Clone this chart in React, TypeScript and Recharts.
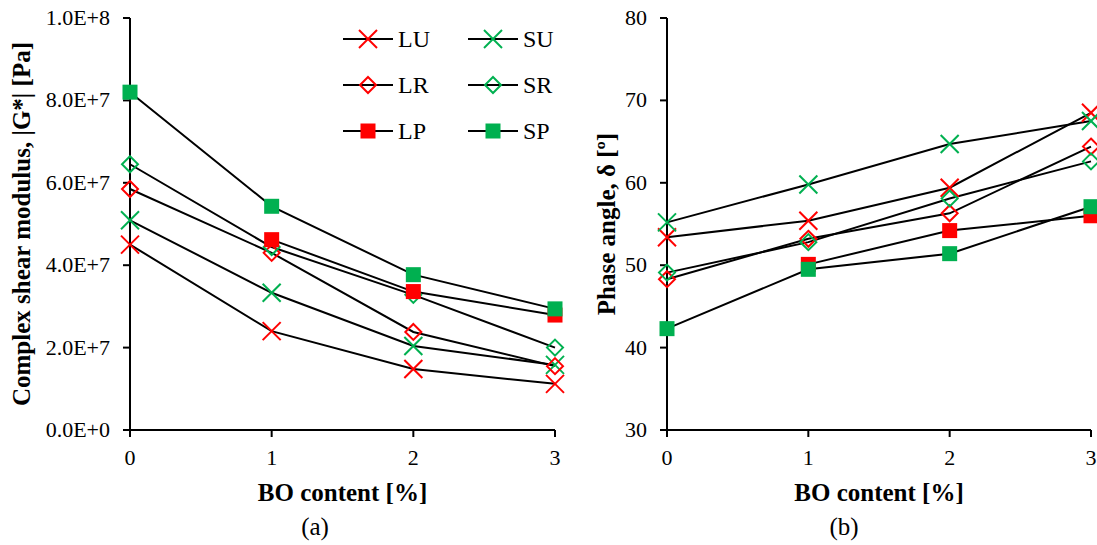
import React from 'react';
import { LineChart, Line, XAxis, YAxis, Legend } from 'recharts';

const boContent = [0, 1, 2, 3];

// Complex shear modulus |G*| [Pa]
const modLU = [4.5e7, 2.4e7, 1.48e7, 1.12e7];
const modSU = [5.09e7, 3.33e7, 2.04e7, 1.58e7];
const modLR = [5.85e7, 4.3e7, 2.38e7, 1.55e7];
const modSR = [6.45e7, 4.44e7, 3.28e7, 2.0e7];
const modLP = [null, 4.62e7, 3.36e7, 2.79e7];
const modSP = [8.2e7, 5.43e7, 3.77e7, 2.94e7];

// Phase angle [deg]
const phLU = [53.4, 55.4, 59.4, 68.5];
const phSU = [55.2, 59.8, 64.7, 67.5];
const phLR = [48.3, 53.2, 56.3, 64.4];
const phSR = [49.1, 52.8, 58.1, 62.6];
const phLP = [null, 50.1, 54.2, 56.0];
const phSP = [42.3, 49.5, 51.4, 57.1];

const modTicks = [0, 2e7, 4e7, 6e7, 8e7, 1e8];
const phaseTicks = [30, 40, 50, 60, 70, 80];
const xTicks = [0, 1, 2, 3];

const RED = '#FF0000';
const GREEN = '#00B050';
const FONT = "'Liberation Serif', 'Times New Roman', serif";

type Shape = 'cross' | 'diamond' | 'square';
const series: { key: string; color: string; shape: Shape }[] = [
  { key: 'LU', color: RED, shape: 'cross' },
  { key: 'SU', color: GREEN, shape: 'cross' },
  { key: 'LR', color: RED, shape: 'diamond' },
  { key: 'SR', color: GREEN, shape: 'diamond' },
  { key: 'LP', color: RED, shape: 'square' },
  { key: 'SP', color: GREEN, shape: 'square' },
];

const leftData = boContent.map((x, i) => ({
  x,
  LU: modLU[i],
  SU: modSU[i],
  LR: modLR[i],
  SR: modSR[i],
  LP: modLP[i],
  SP: modSP[i],
}));

const rightData = boContent.map((x, i) => ({
  x,
  LU: phLU[i],
  SU: phSU[i],
  LR: phLR[i],
  SR: phSR[i],
  LP: phLP[i],
  SP: phSP[i],
}));

function Marker({ cx, cy, shape, color }: { cx: number; cy: number; shape: Shape; color: string }) {
  if (shape === 'cross') {
    const h = 9;
    return (
      <g>
        <line x1={cx - h} y1={cy - h} x2={cx + h} y2={cy + h} stroke={color} strokeWidth={2} />
        <line x1={cx - h} y1={cy + h} x2={cx + h} y2={cy - h} stroke={color} strokeWidth={2} />
      </g>
    );
  }
  if (shape === 'diamond') {
    const h = 8;
    return (
      <polygon
        points={`${cx},${cy - h} ${cx + h},${cy} ${cx},${cy + h} ${cx - h},${cy}`}
        fill="none"
        stroke={color}
        strokeWidth={2}
      />
    );
  }
  const s = 7.5;
  return <rect x={cx - s} y={cy - s} width={2 * s} height={2 * s} fill={color} />;
}

const makeDot = (key: string, shape: Shape, color: string) => (p: any) => {
  const k = `${key}-${p.index}`;
  if (p.cx == null || p.cy == null || p.value == null || (Array.isArray(p.value) && p.value[1] == null)) {
    return <g key={k} />;
  }
  return (
    <g key={k}>
      <Marker cx={p.cx} cy={p.cy} shape={shape} color={color} />
    </g>
  );
};

const renderLegend = () => (
  <svg width={230} height={140} style={{ overflow: 'visible', fontFamily: FONT }}>
    {series.map((s, i) => {
      const col = i % 2;
      const row = Math.floor(i / 2);
      const x0 = 2 + col * 125;
      const y = 19 + row * 46;
      return (
        <g key={s.key}>
          <line x1={x0} x2={x0 + 50} y1={y} y2={y} stroke="#000" strokeWidth={2} />
          <Marker cx={x0 + 25} cy={y} shape={s.shape} color={s.color} />
          <text x={x0 + 55} y={y + 8} fontSize={24} style={{ fontFamily: FONT }} fill="#000">
            {s.key}
          </text>
        </g>
      );
    })}
  </svg>
);

const axisLine = { stroke: '#000', strokeWidth: 2 };

const XTick = (p: any) => (
  <text
    x={p.x}
    y={p.y}
    dy={16}
    textAnchor="middle"
    fill="#000"
    fontSize={22}
    style={{ fontFamily: FONT }}
  >
    {p.payload.value}
  </text>
);

const makeYTick = (fmt: (v: number) => string) => (p: any) => (
  <text
    x={p.x}
    y={p.y}
    dy={7}
    textAnchor="end"
    fill="#000"
    fontSize={22}
    style={{ fontFamily: FONT }}
  >
    {fmt(p.payload.value)}
  </text>
);

const fmtExp = (v: number) => v.toExponential(1).toUpperCase();
const fmtPlain = (v: number) => String(v);

export default function App() {
  return (
    <div
      style={{
        position: 'absolute',
        left: 0,
        top: 0,
        width: 1097,
        height: 545,
        background: '#fff',
        overflow: 'hidden',
        fontFamily: FONT,
      }}
    >
      <div style={{ position: 'absolute', left: 0, top: 0 }}>
        <LineChart width={600} height={545} data={leftData} margin={{ top: 18, right: 45, bottom: 0, left: 0 }}>
          <XAxis
            dataKey="x"
            type="number"
            domain={[0, 3]}
            ticks={xTicks}
            height={115}
            axisLine={axisLine}
            tickLine={axisLine}
            tickSize={7}
            tickMargin={12}
            tick={XTick}
          />
          <YAxis
            type="number"
            domain={[0, 1e8]}
            ticks={modTicks}
            width={130}
            axisLine={axisLine}
            tickLine={axisLine}
            tickSize={7}
            tickMargin={13}
            tick={makeYTick(fmtExp)}
          />
          <Legend
            layout="vertical"
            align="center"
            verticalAlign="middle"
            content={renderLegend}
            wrapperStyle={{ left: 341, top: 20, width: 230, height: 140 }}
          />
          {series.map((s) => (
            <Line
              key={s.key}
              dataKey={s.key}
              stroke="#000"
              strokeWidth={2}
              isAnimationActive={false}
              dot={makeDot('l' + s.key, s.shape, s.color)}
              activeDot={false}
              legendType="none"
            />
          ))}
        </LineChart>
      </div>
      <div style={{ position: 'absolute', left: 560, top: 0 }}>
        <LineChart width={537} height={545} data={rightData} margin={{ top: 18, right: 6, bottom: 0, left: 0 }}>
          <XAxis
            dataKey="x"
            type="number"
            domain={[0, 3]}
            ticks={xTicks}
            height={115}
            axisLine={axisLine}
            tickLine={axisLine}
            tickSize={7}
            tickMargin={12}
            tick={XTick}
          />
          <YAxis
            type="number"
            domain={[30, 80]}
            ticks={phaseTicks}
            width={107}
            axisLine={axisLine}
            tickLine={axisLine}
            tickSize={7}
            tickMargin={13}
            tick={makeYTick(fmtPlain)}
          />
          {series.map((s) => (
            <Line
              key={s.key}
              dataKey={s.key}
              stroke="#000"
              strokeWidth={2}
              isAnimationActive={false}
              dot={makeDot('r' + s.key, s.shape, s.color)}
              activeDot={false}
            />
          ))}
        </LineChart>
      </div>
      <svg
        width={1097}
        height={545}
        style={{ position: 'absolute', left: 0, top: 0, pointerEvents: 'none', fontFamily: FONT }}
      >
        <text transform="translate(30,224) rotate(-90)" textAnchor="middle" fontWeight="bold" fontSize={25} fill="#000">
          Complex shear modulus, |G*| [Pa]
        </text>
        <text x={342.5} y={501} textAnchor="middle" fontWeight="bold" fontSize={25} fill="#000">
          BO content [%]
        </text>
        <text x={315} y={535} textAnchor="middle" fontSize={25} fill="#000">
          (a)
        </text>
        <text transform="translate(615,224) rotate(-90)" textAnchor="middle" fontWeight="bold" fontSize={25} fill="#000">
          Phase angle, δ [º]
        </text>
        <text x={879} y={501} textAnchor="middle" fontWeight="bold" fontSize={25} fill="#000">
          BO content [%]
        </text>
        <text x={844} y={535} textAnchor="middle" fontSize={25} fill="#000">
          (b)
        </text>
      </svg>
    </div>
  );
}
